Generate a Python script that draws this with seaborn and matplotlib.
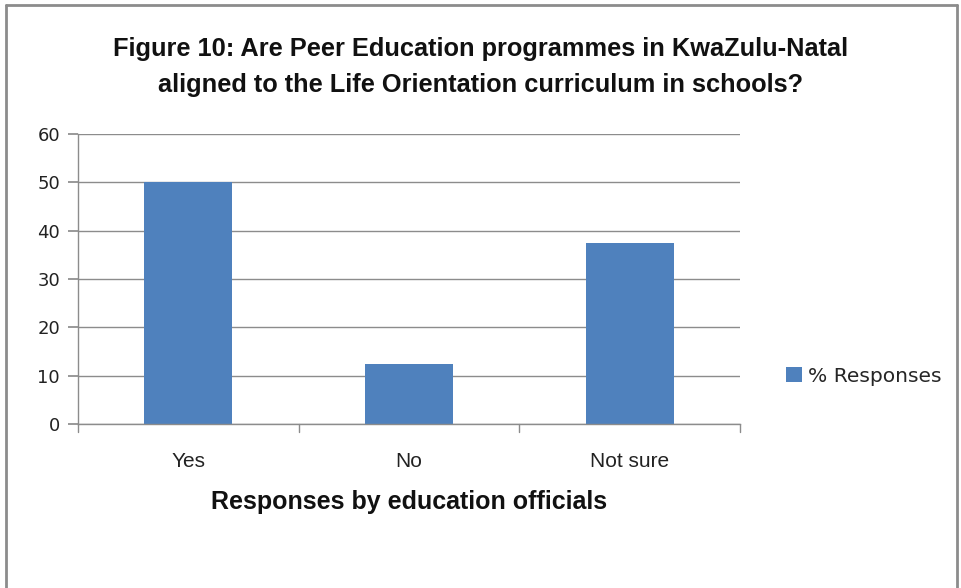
import matplotlib
matplotlib.use("Agg")
import matplotlib.pyplot as plt
import seaborn as sns
import pandas as pd
from matplotlib.lines import Line2D
from matplotlib.patches import Patch

categories = ["Yes", "No", "Not sure"]
responses = [50, 12.5, 37.5]
series_name = "% Responses"
y_ticks = [0, 10, 20, 30, 40, 50, 60]

sns.set_theme(style="white")
plt.rcParams['font.family'] = ['DejaVu Sans']
narrow = ['Liberation Sans Narrow', 'Liberation Sans', 'DejaVu Sans']

df = pd.DataFrame({"category": categories, "value": responses})

fig = plt.figure(figsize=(9.61, 5.88), dpi=100)
ax = fig.add_axes([78/961, 1 - 424/588, (740-78)/961, (424-134)/588])

bar_color = "#4f81bd"
sns.barplot(data=df, x="category", y="value", color=bar_color, width=0.4,
            saturation=1, ax=ax, edgecolor="none")

ax.set_ylim(0, 60)
ax.set_yticks(y_ticks)
ax.set_xlim(-0.5, 2.5)
ax.yaxis.grid(True, color="#8c8c8c", linewidth=1)
ax.set_axisbelow(True)
for s in ["top", "right"]:
    ax.spines[s].set_visible(False)
for s in ["left", "bottom"]:
    ax.spines[s].set_color("#8c8c8c")
    ax.spines[s].set_linewidth(1)

ax.tick_params(axis="y", which="both", left=True, length=7, color="#8c8c8c",
               labelsize=13, pad=6, labelcolor="#222222")
ax.tick_params(axis="x", bottom=False, labelsize=15, pad=14, labelcolor="#222222")
for lab in ax.get_xticklabels():
    lab.set_family(narrow)

# category separator ticks along the bottom edge
for xb in [-0.5, 0.5, 1.5, 2.5]:
    ax.plot([xb, xb], [0, -1.6], color="#8c8c8c", lw=1, clip_on=False)

ax.set_ylabel("")
ax.set_xlabel("Responses by education officials", fontsize=18, fontweight="bold",
              family=narrow, labelpad=14, color="#111111")

fig.text(481/961, 1 - 67/588,
         "Figure 10: Are Peer Education programmes in KwaZulu-Natal\n"
         "aligned to the Life Orientation curriculum in schools?",
         ha="center", va="center", fontsize=18.3, fontweight="bold",
         family=narrow, linespacing=1.6, color="#111111")

handle = Patch(facecolor=bar_color, edgecolor="none")
fig.legend([handle], [series_name], loc="center left",
           bbox_to_anchor=(778/961, 1 - 376/588), frameon=False,
           fontsize=14.6, handlelength=0.8, handleheight=0.8, handletextpad=0.3,
           borderaxespad=0)

# outer chart frame
frame_kw = dict(color="#8c8c8c", lw=2, transform=fig.transFigure)
fig.add_artist(Line2D([6/961, 957/961], [1 - 5/588, 1 - 5/588], **frame_kw))
fig.add_artist(Line2D([6/961, 6/961], [0, 1 - 5/588], **frame_kw))
fig.add_artist(Line2D([957/961, 957/961], [0, 1 - 5/588], **frame_kw))

fig.savefig("out.png", dpi=100, facecolor="white")
